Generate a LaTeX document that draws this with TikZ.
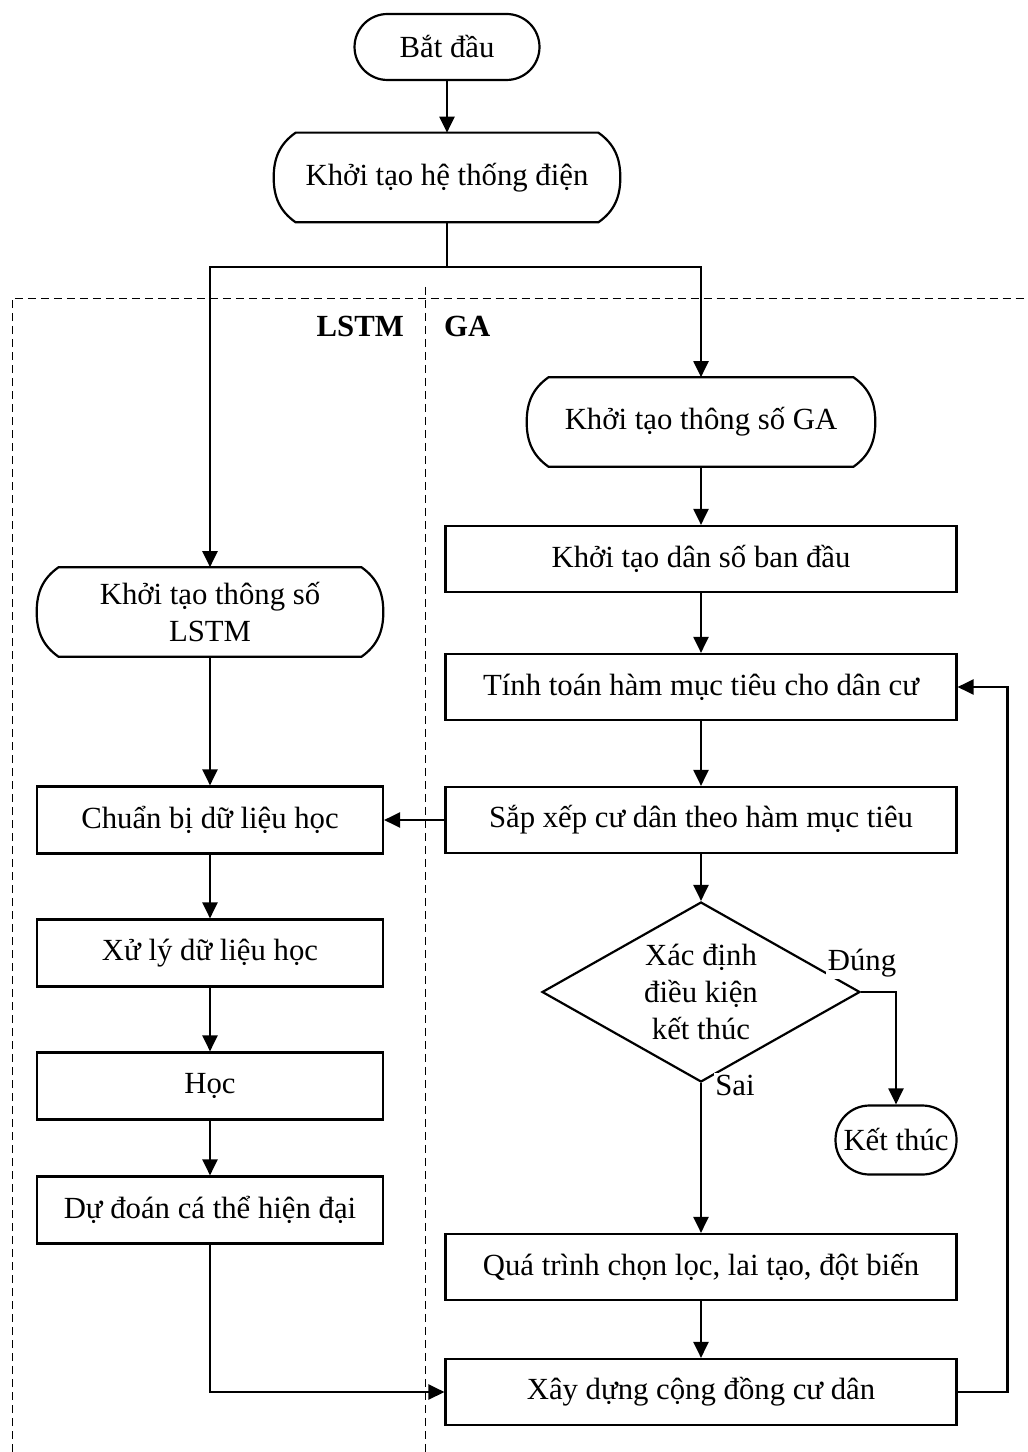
\documentclass[tikz,border=0pt]{standalone}
\usepackage{fontspec}
\setmainfont{Liberation Serif}
\usetikzlibrary{arrows.meta,shapes.geometric}
\tikzset{
  box/.style={draw, line width=1.25pt, minimum width=10.22cm, minimum height=1.32cm, inner sep=0pt},
  lbox/.style={box, minimum width=6.92cm, minimum height=1.34cm},
  disp/.style={minimum width=6.92cm, minimum height=1.78cm, inner sep=0pt, align=center},
  term/.style={draw, line width=1.25pt, rounded corners=0.66cm, minimum height=1.32cm, inner sep=0pt},
  arr/.style={line width=1.25pt, -{Triangle[length=0.32cm,width=0.3cm]}},
  ln/.style={line width=1.25pt},
  frame/.style={line width=0.5pt, dash pattern=on 0.16cm off 0.1cm},
  lbl/.style={fill=white, inner sep=1pt}
}
\begin{document}
\begin{tikzpicture}[x=0.02cm, y=0.02cm, every node/.style={font=\fontsize{17.5}{21}\selectfont}]
      \useasboundingbox (0,0) rectangle (1027,-1452);
      % dashed frame
      \draw[frame] (12,-1452)--(12,-298)--(1040,-298);
      \draw[frame] (425,-287)--(425,-1452);
      \node[anchor=east] (tl) at (410,-326) {\bfseries LSTM};
      \node[anchor=west] (tg) at (438,-326) {\bfseries GA};
      % top
      \node[term, minimum width=3.7cm] (start) at (447,-47) {Bắt đầu};
      \node[disp] (sys) at (447,-177.5) {Khởi tạo hệ thống điện};
      \coordinate (split) at (447,-267);
      % GA column
      \node[disp, minimum width=6.96cm] (gainit) at (701,-422) {Khởi tạo thông số GA};
      \node[box] (pop) at (701,-559) {Khởi tạo dân số ban đầu};
      \node[box] (fit) at (701,-687) {Tính toán hàm mục tiêu cho dân cư};
      \node[box] (sort) at (701,-820) {Sắp xếp cư dân theo hàm mục tiêu};
      \node[diamond, draw, line width=1.25pt, aspect=1.78, minimum width=6.36cm, minimum height=3.6cm,
        inner sep=0pt, align=center] (dec) at (701,-992) {Xác định\\điều kiện\\kết thúc};
      \node[term, minimum width=2.42cm, minimum height=1.38cm, rounded corners=0.68cm] (endn) at (896,-1140) {Kết thúc};
      \node[box] (sel) at (701,-1267) {Quá trình chọn lọc, lai tạo, đột biến};
      \node[box] (build) at (701,-1392) {Xây dựng cộng đồng cư dân};
      % LSTM column
      \node[disp] (lstminit) at (210,-612) {Khởi tạo thông số\\LSTM};
      \node[lbox] (prep) at (210,-820) {Chuẩn bị dữ liệu học};
      \node[lbox] (proc) at (210,-953) {Xử lý dữ liệu học};
      \node[lbox] (learn) at (210,-1086) {Học};
      \node[lbox] (pred) at (210,-1210) {Dự đoán cá thể hiện đại};
      % display outlines
      \foreach \n in {sys, gainit, lstminit}
        \draw[line width=1.25pt, line join=round]
          ([xshift=0.44cm]\n.north west) -- ([xshift=-0.44cm]\n.north east)
          to[out=-35, in=90] (\n.east) to[out=-90, in=35] ([xshift=-0.44cm]\n.south east)
          -- ([xshift=0.44cm]\n.south west)
          to[out=145, in=-90] (\n.west) to[out=90, in=-145] cycle;
      % connectors
      \draw[arr] (start) -- (sys);
      \draw[ln] (sys) -- (split);
      \draw[arr] (split) -| (lstminit);
      \draw[arr] (split) -| (gainit);
      \draw[arr] (gainit) -- (pop);
      \draw[arr] (pop) -- (fit);
      \draw[arr] (fit) -- (sort);
      \draw[arr] (sort) -- (dec);
      \draw[arr] (sort) -- (prep);
      \draw[arr] (dec.east) -| (endn);
      \draw[arr] (dec.south) -- (sel);
      \draw[arr] (sel) -- (build);
      \draw[arr] (build.east) -- ++(50,0) |- (fit.east);
      \draw[arr] (lstminit) -- (prep);
      \draw[arr] (prep) -- (proc);
      \draw[arr] (proc) -- (learn);
      \draw[arr] (learn) -- (pred);
      \draw[arr] (pred.south) |- (build.west);
      \node[lbl] (yes) at (862,-963) {Đúng};
      \node[lbl] (no) at (735,-1085) {Sai};
    \end{tikzpicture}
\end{document}
